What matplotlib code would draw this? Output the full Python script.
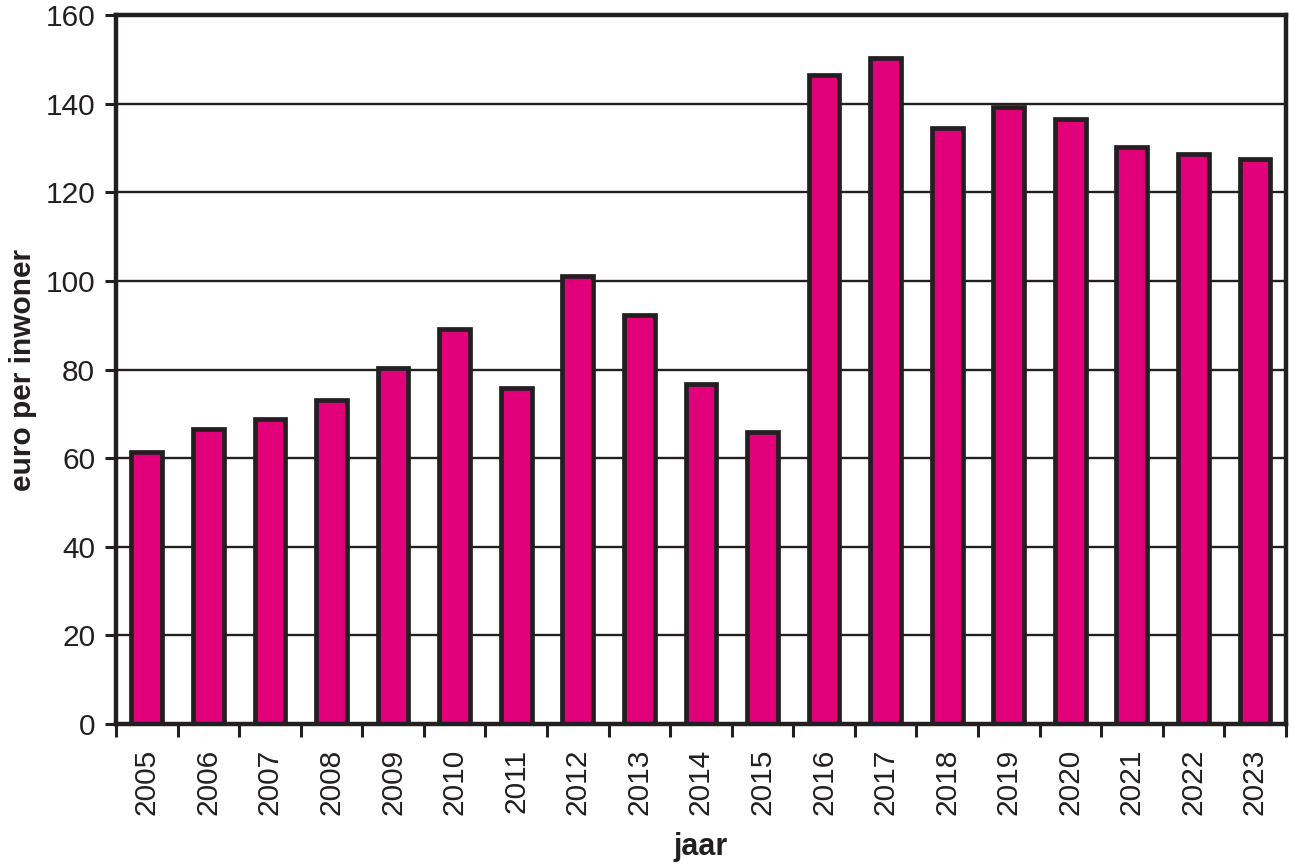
import matplotlib
matplotlib.use("Agg")
import matplotlib.pyplot as plt
import numpy as np
from matplotlib.ticker import FixedLocator

years = ["2005", "2006", "2007", "2008", "2009", "2010", "2011", "2012", "2013", "2014",
         "2015", "2016", "2017", "2018", "2019", "2020", "2021", "2022", "2023"]
values = [61.5, 66.5, 68.8, 73.2, 80.4, 89.2, 75.9, 101.0, 92.4, 76.8,
          65.8, 146.5, 150.2, 134.4, 139.3, 136.6, 130.3, 128.7, 127.6]
yticks = [0, 20, 40, 60, 80, 100, 120, 140, 160]

PINK = "#E2007A"
DARK = "#231F20"

plt.rcParams['font.family'] = ['Liberation Sans', 'DejaVu Sans']

fig = plt.figure(figsize=(12.89, 8.64), dpi=100)
ax = fig.add_axes([0.090, 0.162, 0.9075, 0.8206])

x = np.arange(len(years))
ax.bar(x, values, width=0.5, color=PINK, edgecolor=DARK, linewidth=3.4, zorder=3)

ax.set_xlim(-0.5, len(years) - 0.5)
ax.set_ylim(0, 160)
ax.set_yticks(yticks)
ax.set_yticklabels([str(v) for v in yticks], fontsize=21.5, color=DARK)

ax.xaxis.set_major_locator(FixedLocator(np.arange(-0.5, len(years), 1.0)))
ax.xaxis.set_major_formatter(plt.NullFormatter())
ax.xaxis.set_minor_locator(FixedLocator(x))
ax.set_xticks(x, minor=True)
ax.set_xticklabels(years, minor=True, rotation=90, fontsize=21.5, color=DARK)
ax.tick_params(axis='x', which='major', direction='out', length=9, width=2.2, color=DARK)
ax.tick_params(axis='x', which='minor', length=0, pad=18)
ax.tick_params(axis='y', which='major', direction='out', length=8, width=2.2, color=DARK, pad=7)

ax.grid(axis='y', color=DARK, linewidth=1.7, zorder=0)
ax.set_axisbelow(True)

for s in ax.spines.values():
    s.set_linewidth(3.2)
    s.set_color(DARK)
    s.set_zorder(4)

ax.set_ylabel("euro per inwoner", fontsize=21.5, fontweight='bold', color=DARK, labelpad=6)
ax.set_xlabel("jaar", fontsize=22, fontweight='bold', color=DARK, labelpad=12)

fig.savefig("out.png", dpi=100)
